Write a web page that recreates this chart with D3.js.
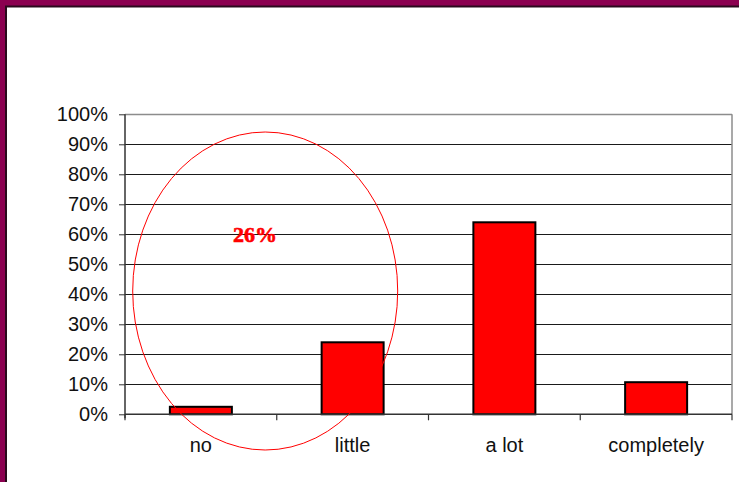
<!DOCTYPE html>
<html>
<head>
<meta charset="utf-8">
<script src="https://cdn.jsdelivr.net/npm/d3@7"></script>
<style>
html,body{margin:0;padding:0;background:#fff;overflow:hidden;}
svg{display:block;}
.anno{font-family:"Liberation Serif","Times New Roman",serif;font-weight:bold;}
</style>
</head>
<body>
<svg id="chart" width="739" height="482"></svg>
<script>
const categories = ["no", "little", "a lot", "completely"];
const values = [2.5, 24, 64, 10.7];
const yTicks = [0, 10, 20, 30, 40, 50, 60, 70, 80, 90, 100];
const annotationText = "26%";

(function () {
const svg = d3.select("#chart");
const W = 739, H = 482;

// frame
svg.append("rect").attr("x",0).attr("y",0).attr("width",W).attr("height",H).attr("fill","#8b0050");
svg.append("rect").attr("x",5).attr("y",5.5).attr("width",W).attr("height",H).attr("fill","#2a0a1c");
svg.append("rect").attr("x",7).attr("y",7.5).attr("width",W).attr("height",H).attr("fill","#ffffff");

const pL = 125, pR = 732, pT = 114.3, pB = 414.3;
const xOuter = d3.scaleBand().domain(categories).range([pL, pR]);
const y = d3.scaleLinear().domain([0, 100]).range([pB, pT]);

// gridlines
svg.append("g").selectAll("line").data(yTicks.filter(d => d > 0 && d < 100)).join("line")
  .attr("x1", pL).attr("x2", pR)
  .attr("y1", d => Math.round(y(d)) + 0.5).attr("y2", d => Math.round(y(d)) + 0.5)
  .attr("stroke", "#1a1a1a").attr("stroke-width", 1);

// plot border (top & right gray)
svg.append("line").attr("x1", pL).attr("x2", pR).attr("y1", Math.round(y(100))+0.5).attr("y2", Math.round(y(100))+0.5)
  .attr("stroke", "#8c8c8c").attr("stroke-width", 1.5);
svg.append("line").attr("x1", pR).attr("x2", pR).attr("y1", y(100)).attr("y2", pB)
  .attr("stroke", "#8c8c8c").attr("stroke-width", 1.5);

// bars
svg.append("g").selectAll("rect").data(categories).join("rect")
  .attr("x", (d) => xOuter(d) + xOuter.bandwidth()/2 - 31)
  .attr("width", 62)
  .attr("y", (d, i) => y(values[i]))
  .attr("height", (d, i) => pB - y(values[i]))
  .attr("fill", "#ff0000").attr("stroke", "#000").attr("stroke-width", 2);

const sans = "'Liberation Sans', Arial, sans-serif";

// y axis
const yAxis = d3.axisLeft(y).tickValues(yTicks).tickFormat(d => d + "%").tickSize(6).tickPadding(11);
const gy = svg.append("g").attr("transform", `translate(${pL},0)`).call(yAxis);
gy.select(".domain").attr("stroke", "#333").attr("stroke-width", 1.5).attr("d", `M0,${pT}V${pB+4}`);
gy.selectAll(".tick line").attr("stroke", "#333");
gy.selectAll("text").attr("font-family", sans).attr("font-size", 20).attr("fill", "#111");

// x axis
const xAxis = d3.axisBottom(xOuter).tickSize(0).tickPadding(24);
const gx = svg.append("g").attr("transform", `translate(0,${pB})`).call(xAxis);
gx.select(".domain").attr("stroke", "#333").attr("stroke-width", 1.5).attr("d", `M${pL},0H${pR}`);
gx.selectAll("text").attr("font-family", sans).attr("font-size", 20).attr("fill", "#111");
// category separator ticks
const seps = categories.map(d => xOuter(d)).concat([pR]);
svg.append("g").selectAll("line").data(seps).join("line")
  .attr("x1", d => d).attr("x2", d => d).attr("y1", pB).attr("y2", pB + 6)
  .attr("stroke", "#333").attr("stroke-width", 1.2);

// annotation ellipse
svg.append("ellipse").attr("cx", 265.2).attr("cy", 291).attr("rx", 132.5).attr("ry", 159)
  .attr("fill", "none").attr("stroke", "#ff0000").attr("stroke-width", 1);

svg.append("text").attr("class", "anno").attr("x", 255).attr("y", 242).attr("text-anchor", "middle")
  .attr("font-size", 22).attr("fill", "#ff0000").attr("stroke", "#ff0000").attr("stroke-width", 0.6)
  .text(annotationText);
})();
</script>
</body>
</html>
